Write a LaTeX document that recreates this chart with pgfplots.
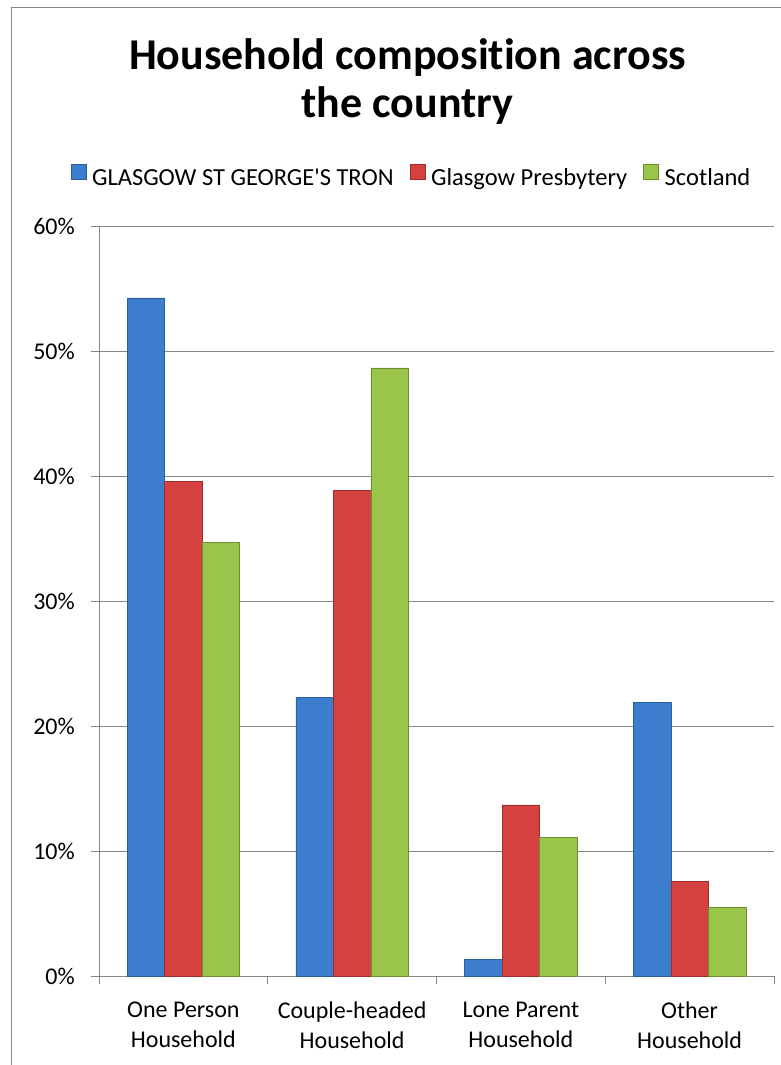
\documentclass[border=0pt]{standalone}
\usepackage{pgfplots}
\pgfplotsset{compat=1.18}
\usepackage{fontspec}
\setmainfont{Carlito}[Ligatures=NoCommon]
\definecolor{cblue}{HTML}{3C7DCD}
\definecolor{cblueD}{HTML}{2C5F9E}
\definecolor{cred}{HTML}{D4413E}
\definecolor{credD}{HTML}{9E2E2C}
\definecolor{cgreen}{HTML}{9BC44A}
\definecolor{cgreenD}{HTML}{6E8E30}
\definecolor{axgray}{HTML}{868686}
\begin{document}
\begin{tikzpicture}
\useasboundingbox (0pt,0pt) rectangle (781pt,1065pt);
\draw[color=axgray, line width=1pt] (11pt,-20pt) rectangle (820pt,1057pt);
\node[font=\fontsize{44}{48}\selectfont\bfseries, anchor=base, inner sep=0pt] at (407.5pt,995.7pt) {Household composition across};
\node[font=\fontsize{44}{48}\selectfont\bfseries, anchor=base, inner sep=0pt] at (407.5pt,947pt) {the country};
\begin{axis}[
  at={(99pt,89pt)}, anchor=south west,
  scale only axis, width=675pt, height=749.3pt,
  xmin=-0.5, xmax=3.5, ymin=0, ymax=60,
  enlargelimits=false,
  axis x line*=bottom, axis y line*=left,
  axis line style={draw=axgray, line width=0.8pt},
  ymajorgrids, major grid style={draw=axgray, line width=0.8pt},
  tick align=outside,
  major tick length=8pt, minor tick length=8pt,
  every tick/.style={draw=axgray, line width=0.8pt},
  major x tick style={draw=none},
  xtick={0,1,2,3},
  minor xtick={-0.5,0.5,1.5,2.5,3.5},
  xticklabels={{One Person\\Household},{Couple-headed\\Household},{Lone Parent\\Household},{Other\\Household}},
  xticklabel style={align=center, font=\fontsize{24}{29.7}\selectfont, inner sep=0pt, anchor=north, yshift=-18pt},
  ytick={0,10,20,30,40,50,60},
  yticklabels={0\%,10\%,20\%,30\%,40\%,50\%,60\%},
  yticklabel style={font=\fontsize{24}{29}\selectfont, inner sep=0pt, anchor=east, xshift=-16pt},
  legend columns=3,
  legend style={at={(0.4637,1.0663)}, anchor=center, draw=none, fill=none,
    font=\fontsize{24.5}{29}\selectfont,
    /tikz/every odd column/.append style={column sep=3pt},
    /tikz/every even column/.append style={column sep=13pt},
    nodes={inner sep=3pt}},
  legend image code/.code={\draw[#1, line width=0.5pt] (0pt,-1pt) rectangle (15pt,14pt);},
]
\addplot[ybar, bar width=0.2222, bar shift=-0.2222, fill=cblue, draw=cblueD, line width=0.6pt]
  coordinates {(0,54.3) (1,22.3) (2,1.3) (3,21.9)};
\addlegendentry{GLASGOW ST GEORGE\textquotesingle S TRON}
\addplot[ybar, bar width=0.2222, bar shift=0, fill=cred, draw=credD, line width=0.6pt]
  coordinates {(0,39.6) (1,38.9) (2,13.7) (3,7.6)};
\addlegendentry{Glasgow Presbytery}
\addplot[ybar, bar width=0.2222, bar shift=0.2222, fill=cgreen, draw=cgreenD, line width=0.6pt]
  coordinates {(0,34.7) (1,48.7) (2,11.1) (3,5.5)};
\addlegendentry{Scotland}
\end{axis}
\end{tikzpicture}
\end{document}
